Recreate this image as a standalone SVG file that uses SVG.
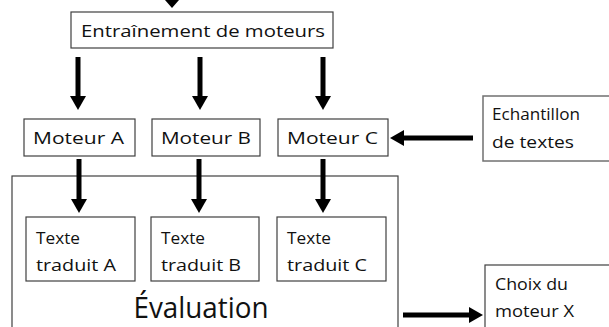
<svg xmlns="http://www.w3.org/2000/svg" width="609" height="327" viewBox="0 0 609 327">
<style>
.box{fill:#fff;stroke:#404040;stroke-width:1.2}
.t{font-family:"Open Sans","Noto Sans",sans-serif;font-size:16.5px;fill:#111}
.ar{stroke:#000;stroke-width:5;fill:none}
.hd{fill:#000}
</style>
<rect width="609" height="327" fill="#fff"/>
<g id="evaluation">
<rect class="box" x="12" y="176" width="386" height="160"/>
<text class="t" x="201" y="318" text-anchor="middle" style="font-size:29px" textLength="135" lengthAdjust="spacingAndGlyphs">Évaluation</text>
</g>
<g id="entrainement">
<rect class="box" x="71" y="12" width="262" height="36"/>
<text class="t" x="81" y="37" textLength="244" lengthAdjust="spacingAndGlyphs">Entraînement de moteurs</text>
</g>
<g id="moteurA">
<rect class="box" x="24" y="119" width="111" height="37"/>
<text class="t" x="33" y="144" textLength="91" lengthAdjust="spacingAndGlyphs">Moteur A</text>
</g>
<g id="moteurB">
<rect class="box" x="152" y="119" width="108" height="37"/>
<text class="t" x="161" y="144" textLength="90" lengthAdjust="spacingAndGlyphs">Moteur B</text>
</g>
<g id="moteurC">
<rect class="box" x="278" y="119" width="110" height="37"/>
<text class="t" x="287" y="144" textLength="91" lengthAdjust="spacingAndGlyphs">Moteur C</text>
</g>
<g id="echantillon">
<rect class="box" x="483" y="96" width="130" height="65" style="stroke:#707070;stroke-width:1.5"/>
<text class="t" x="492" y="120" textLength="88" lengthAdjust="spacingAndGlyphs">Echantillon</text>
<text class="t" x="492" y="148" textLength="82" lengthAdjust="spacingAndGlyphs">de textes</text>
</g>
<g id="texteA">
<rect class="box" x="26" y="217" width="109" height="64"/>
<text class="t" x="36" y="244" textLength="44" lengthAdjust="spacingAndGlyphs">Texte</text>
<text class="t" x="36" y="271" textLength="80" lengthAdjust="spacingAndGlyphs">traduit A</text>
</g>
<g id="texteB">
<rect class="box" x="151" y="217" width="108" height="64"/>
<text class="t" x="161" y="244" textLength="44" lengthAdjust="spacingAndGlyphs">Texte</text>
<text class="t" x="161" y="271" textLength="80" lengthAdjust="spacingAndGlyphs">traduit B</text>
</g>
<g id="texteC">
<rect class="box" x="277" y="217" width="109" height="64"/>
<text class="t" x="287" y="244" textLength="44" lengthAdjust="spacingAndGlyphs">Texte</text>
<text class="t" x="287" y="271" textLength="80" lengthAdjust="spacingAndGlyphs">traduit C</text>
</g>
<g id="choix">
<rect class="box" x="485" y="265" width="130" height="70"/>
<text class="t" x="495" y="290" textLength="73" lengthAdjust="spacingAndGlyphs">Choix du</text>
<text class="t" x="495" y="317" textLength="79" lengthAdjust="spacingAndGlyphs">moteur X</text>
</g>
<g id="connectors">
<polygon class="hd" points="165,0 179,0 172,8"/>
<line class="ar" x1="78" y1="57" x2="78" y2="97"/>
<polygon class="hd" points="70,96 86,96 78,110"/>
<line class="ar" x1="200" y1="57" x2="200" y2="97"/>
<polygon class="hd" points="192,96 208,96 200,110"/>
<line class="ar" x1="323" y1="57" x2="323" y2="97"/>
<polygon class="hd" points="315,96 331,96 323,110"/>
<line class="ar" x1="79" y1="159" x2="79" y2="200"/>
<polygon class="hd" points="71,199 87,199 79,213"/>
<line class="ar" x1="199" y1="159" x2="199" y2="200"/>
<polygon class="hd" points="191,199 207,199 199,213"/>
<line class="ar" x1="323" y1="159" x2="323" y2="200"/>
<polygon class="hd" points="315,199 331,199 323,213"/>
<line class="ar" x1="473" y1="138" x2="403" y2="138"/>
<polygon class="hd" points="404,130 404,146 390,138"/>
<line class="ar" x1="403" y1="315" x2="470" y2="315"/>
<polygon class="hd" points="469,307 469,323 483,315"/>
</g>
</svg>
